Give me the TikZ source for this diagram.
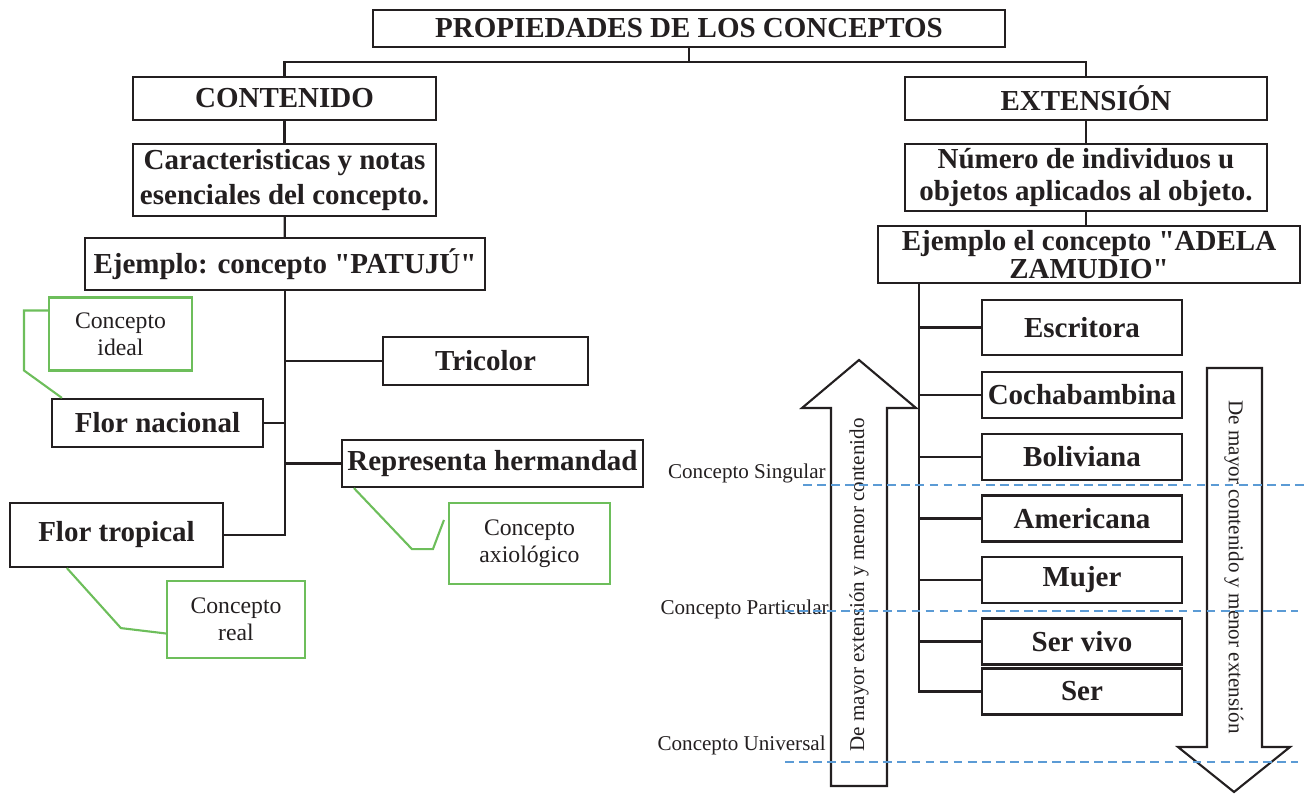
\documentclass[tikz,border=0pt]{standalone}
\usepackage{fontspec}
\setmainfont{Liberation Serif}[Ligatures=TeXOff]
\usepackage{tikz}
\usetikzlibrary{positioning,calc}
\definecolor{leaf}{HTML}{6DBE5B}
\definecolor{lvl}{HTML}{5B9BD5}
\definecolor{ink}{HTML}{231F20}

\begin{document}
\begin{tikzpicture}[
  x=0.02cm, y=-0.02cm,
  box/.style={draw=ink, line width=1.25pt, text=ink, inner sep=2pt, align=center,
    font=\fontsize{16.5}{18}\selectfont\bfseries},
  item/.style={box, minimum width=4cm, minimum height=0.92cm},
  note/.style={draw=leaf, line width=1.2pt, text=ink, align=center,
    font=\fontsize{13.5}{15.5}\selectfont},
  side/.style={anchor=east, text=ink, inner sep=0pt, font=\fontsize{12}{14}\selectfont},
  link/.style={draw=ink, line width=1.25pt},
  callout/.style={draw=leaf, line width=1.2pt},
  bigarrow/.style={draw=ink, fill=white, line width=1.2pt, line join=miter},
  level/.style={draw=lvl, line width=0.9pt, dash pattern=on 5pt off 3pt}]
\useasboundingbox (0,0) rectangle (1308,794);
% heading
\node[box, minimum width=12.64cm, minimum height=0.74cm] (title) at (689,28.5) {PROPIEDADES DE LOS CONCEPTOS};
\node[box, minimum width=6.06cm, minimum height=0.86cm] (cont) at (284.5,98.5) {CONTENIDO};
\node[box, minimum width=7.24cm, minimum height=0.86cm] (ext) at (1086,98.5) {EXTENSIÓN};
% left branch
\node[box, minimum width=6.06cm, minimum height=1.44cm, font=\fontsize{16.5}{19.5}\selectfont\bfseries] (carac) at (284.5,180) {Caracteristicas y notas\\esenciales del concepto.};
\node[box, minimum width=8cm, minimum height=1.04cm] (patuju) at (285,264) {Ejemplo: concepto "PATUJÚ"};
\node[box, minimum width=4.1cm, minimum height=0.96cm] (tricolor) at (485.5,361) {Tricolor};
\node[box, minimum width=4.22cm, minimum height=0.96cm] (flornac) at (157.5,423) {Flor nacional};
\node[box, minimum width=6.02cm, minimum height=0.94cm] (repr) at (492.5,463.5) {Representa hermandad};
\node[box, minimum width=4.26cm, minimum height=1.28cm] (flortrop) at (116.5,535) {Flor tropical};
\node[note, minimum width=2.86cm, minimum height=1.46cm] (ideal) at (120.5,334) {Concepto\\ideal};
\node[note, minimum width=2.76cm, minimum height=1.54cm] (real) at (236,619.5) {Concepto\\real};
\node[note, minimum width=3.22cm, minimum height=1.62cm] (axio) at (529.5,543.5) {Concepto\\axiológico};
% right branch
\node[box, minimum width=7.24cm, minimum height=1.34cm] (numero) at (1086,177.5) {Número de individuos u\\objetos aplicados al objeto.};
\node[box, minimum width=8.44cm, minimum height=1.14cm, font=\fontsize{16.5}{15.5}\selectfont\bfseries] (adela) at (1089,254.5) {Ejemplo el concepto "ADELA\\ZAMUDIO"};
\node[item, minimum height=1.1cm] (escritora) at (1082,327.5) {Escritora};
\node[item] (cocha) at (1082,395) {Cochabambina};
\node[item] (boli) at (1082,457) {Boliviana};
\node[item] (amer) at (1082,518.5) {Americana};
\node[item] (mujer) at (1082,580) {Mujer};
\node[item] (servivo) at (1082,641.5) {Ser vivo};
\node[item] (ser) at (1082,691.5) {Ser};
% connectors
\coordinate (split) at (689,62);
\draw[link] (title) -- (split);
\draw[link] (split) -| (cont);
\draw[link] (split) -| (ext);
\draw[link] (cont) -- (carac);
\draw[link] (carac) -- (patuju);
\draw[link] (ext) -- (numero);
\draw[link] (numero.south) -- (numero.south |- adela.north);
\draw[link] (patuju.south) |- (flortrop.east);
\draw[link] (patuju.south |- flornac.east) -- (flornac.east);
\foreach \n in {tricolor,repr}
  \draw[link] (patuju.south |- \n.west) -- (\n.west);
\coordinate (rtrunk) at ([xshift=0.84cm]adela.south west);
\draw[link] (rtrunk) |- (ser.west);
\foreach \n in {escritora,cocha,boli,amer,mujer,servivo}
  \draw[link] (rtrunk |- \n.west) -- (\n.west);
% callouts
\draw[callout] ([yshift=-0.28cm]ideal.north west) -- ++(-24,0) -- ++(0,60) -- ([xshift=0.22cm]flornac.north west);
\draw[callout] ([xshift=1.16cm]flortrop.south west) -- ++(54,60) -- ([yshift=-0.28cm]real.west);
\draw[callout] ([xshift=0.26cm]repr.south west) -- ++(58,61) -- ++(21,0) -- ([xshift=-0.08cm,yshift=0.47cm]axio.west);
% scale arrows
\draw[bigarrow] (831,786) -- (831,408) -- (802,408) -- (859,360) -- (916,408) -- (887,408) -- (887,786) -- cycle;
\node[rotate=90, text=ink, font=\fontsize{12}{14}\selectfont] (upnote) at (859,585) {De mayor extensión y menor contenido};
\draw[bigarrow] (1207,368) -- (1262,368) -- (1262,747) -- (1290,747) -- (1234,792) -- (1178,747) -- (1207,747) -- cycle;
\node[rotate=-90, text=ink, font=\fontsize{12}{14}\selectfont] (downnote) at (1234,567) {De mayor contenido y menor extensión};
% levels
\node[side] (sing) at (826,473) {Concepto Singular};
\node[side] (part) at (829,609) {Concepto Particular};
\node[side] (univ) at (826,745) {Concepto Universal};
\draw[level] (803,485) -- (1308,485);
\draw[level] (785,611) -- (1298,611);
\draw[level] (785,762) -- (1298,762);
\end{tikzpicture}
\end{document}
